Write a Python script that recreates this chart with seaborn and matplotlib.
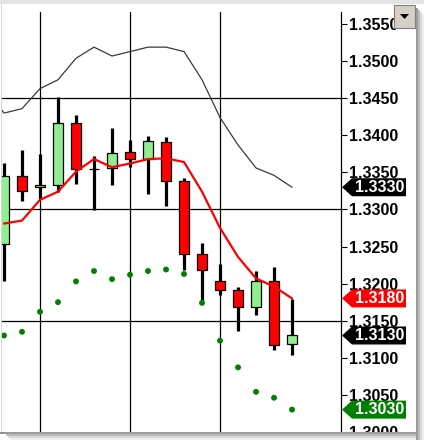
import matplotlib
matplotlib.use("Agg")
import matplotlib.pyplot as plt
import matplotlib.patches as mpatches
import matplotlib.transforms as mtransforms
import seaborn as sns

# OHLC per bar (bar index 0..16)
bar_idx = list(range(17))
opens = [1.3253, 1.3345, 1.3330, 1.3333, 1.3416, 1.3354, 1.3356, 1.3377, 1.3368,
         1.3391, 1.3338, 1.3240, 1.3204, 1.3191, 1.3169, 1.3204, 1.3118]
highs = [1.3363, 1.3380, 1.3375, 1.3452, 1.3427, 1.3372, 1.3410, 1.3394, 1.3399,
         1.3398, 1.3342, 1.3255, 1.3226, 1.3195, 1.3217, 1.3222, 1.3179]
lows = [1.3204, 1.3311, 1.3314, 1.3323, 1.3335, 1.3299, 1.3333, 1.3357, 1.3321,
        1.3305, 1.3218, 1.3172, 1.3184, 1.3136, 1.3157, 1.3110, 1.3104]
closes = [1.3345, 1.3325, 1.3333, 1.3416, 1.3354, 1.3354, 1.3376, 1.3368, 1.3392,
          1.3338, 1.3240, 1.3219, 1.3191, 1.3169, 1.3204, 1.3117, 1.3130]

# moving average (red)
ma_vals = [1.3281, 1.3285, 1.3313, 1.3324, 1.3351, 1.3368, 1.3357, 1.3362, 1.3368,
           1.3369, 1.3364, 1.3324, 1.3275, 1.3236, 1.3207, 1.3196, 1.3180]

# upper band (thin dark line), starts one bar before the first visible candle
band_idx = list(range(-1, 17))
band_vals = [1.3464, 1.3430, 1.3436, 1.3463, 1.3475, 1.3504, 1.3519, 1.3507, 1.3513,
             1.3519, 1.3519, 1.3513, 1.3475, 1.3424, 1.3387, 1.3356, 1.3346, 1.3330]

# parabolic SAR dots
sar_vals = [1.3130, 1.3135, 1.3162, 1.3175, 1.3203, 1.3217, 1.3206, 1.3212, 1.3217,
            1.3219, 1.3213, 1.3174, 1.3123, 1.3087, 1.3054, 1.3046, 1.3030]

price_ticks = [1.3000, 1.3050, 1.3100, 1.3150, 1.3200, 1.3250, 1.3300,
               1.3350, 1.3400, 1.3450, 1.3500, 1.3550]
grid_prices = [1.3150, 1.3300, 1.3450]
grid_bars = [2, 7, 12]

W, H = 424, 440

sns.set_style("white")
plt.rcParams['font.family'] = ['Liberation Sans', 'DejaVu Sans']

fig = plt.figure(figsize=(W / 100, H / 100), dpi=100)
fig.patch.set_facecolor('white')
ax = fig.add_axes([2 / W, 8 / H, 339 / W, 420 / H])
ax.set_facecolor('white')

# grid
for gp in grid_prices:
    ax.axhline(gp, color='black', lw=0.9, zorder=1)
for gb in grid_bars:
    ax.axvline(gb, color='black', lw=0.9, zorder=1)

# candles
body_w = 0.56
for i, o, h, l, c in zip(bar_idx, opens, highs, lows, closes):
    ax.vlines(i, l, h, color='black', lw=2.3, zorder=3)
    fc = '#90ee90' if c >= o else '#ff0000'
    ax.bar(i, c - o, width=body_w, bottom=o, color=fc, edgecolor='black',
           linewidth=0.9, zorder=4)

sns.lineplot(x=band_idx, y=band_vals, ax=ax, color='#3a3a3a', lw=0.9, zorder=2)
sns.lineplot(x=bar_idx, y=ma_vals, ax=ax, color='#ff0000', lw=1.6, zorder=5)
sns.scatterplot(x=bar_idx, y=sar_vals, ax=ax, color='#008000', s=18,
                edgecolor='none', zorder=5)

ax.set_xlim(-0.111, 18.72)
ax.set_ylim(1.29998, 1.35664)
ax.set_xticks([])
ax.set_yticks(price_ticks)
ax.set_yticklabels([f"{p:.4f}" for p in price_ticks])
ax.yaxis.tick_right()
ax.tick_params(axis='y', length=4.5, width=0.8, pad=1.5, labelsize=11.5,
               colors='black')
for lbl in ax.get_yticklabels():
    lbl.set_fontweight('bold')
for side in ['left', 'top', 'bottom']:
    ax.spines[side].set_visible(False)
ax.spines['right'].set_color('black')
ax.spines['right'].set_linewidth(0.9)
ax.set_xlabel('')
ax.set_ylabel('')

# price tags on the axis
tr = mtransforms.blended_transform_factory(fig.transFigure, ax.transData)
half = 9 * 0.0001349
tags = [(band_vals[-1], 'black'), (ma_vals[-1], '#ff0000'),
        (closes[-1], 'black'), (sar_vals[-1], '#008000')]
for price, col in tags:
    verts = [(342 / W, price), (352 / W, price + half), (406 / W, price + half),
             (406 / W, price - half), (352 / W, price - half)]
    poly = mpatches.Polygon(verts, closed=True, transform=tr, facecolor=col,
                            edgecolor='none', clip_on=False, zorder=6)
    ax.add_patch(poly)
    ax.text(380 / W, price, f"{price:.4f}", transform=tr, color='white',
            fontsize=11.5, fontweight='bold', ha='center', va='center',
            zorder=7, clip_on=False)


def fx(x):
    return x / W


def fy(y):
    return 1 - y / H


# window frame: top band, shadows, left edge
fig.add_artist(mpatches.Rectangle((0, fy(4)), 1, 4 / H, transform=fig.transFigure,
                                  facecolor='#e4e4e4', edgecolor='none', zorder=20))
fig.add_artist(mpatches.Rectangle((fx(1), fy(432)), 1 / W, 428 / H,
                                  transform=fig.transFigure, facecolor='#d8d8d8',
                                  edgecolor='none', zorder=20))
shades = ['#9c9c9c', '#bcbcbc', '#d9d9d9', '#efefef']
for k, sc in enumerate(shades):
    fig.add_artist(mpatches.Rectangle((fx(416 + 2 * k), fy(440)), 2 / W, (432 - 2 * k) / H,
                                      transform=fig.transFigure, facecolor=sc,
                                      edgecolor='none', zorder=20))
    fig.add_artist(mpatches.Rectangle((fx(4 + 2 * k), fy(434 + 2 * k)), (412 - 2 * k) / W, 2 / H,
                                      transform=fig.transFigure, facecolor=sc,
                                      edgecolor='none', zorder=20))
fig.add_artist(mpatches.Rectangle((fx(0), 0), 1, fy(432), transform=fig.transFigure,
                                  facecolor='none', edgecolor='none', zorder=19))
# white gap below the window bottom before shadow
fig.add_artist(mpatches.Rectangle((fx(0), fy(434)), fx(416), 2 / H,
                                  transform=fig.transFigure, facecolor='#8f8f8f',
                                  edgecolor='none', zorder=19))
fig.add_artist(mpatches.Rectangle((fx(0), fy(440)), 1, 6 / H,
                                  transform=fig.transFigure, facecolor='white',
                                  edgecolor='none', zorder=18))

# dropdown button
fig.add_artist(mpatches.Rectangle((fx(394), fy(28)), 21 / W, 23 / H,
                                  transform=fig.transFigure, facecolor='#d4d0c8',
                                  edgecolor='#808080', lw=0.8, zorder=21))
fig.add_artist(mpatches.Polygon([(fx(400), fy(14)), (fx(409), fy(14)), (fx(404.5), fy(19))],
                                closed=True, transform=fig.transFigure,
                                facecolor='black', edgecolor='none', zorder=22))

fig.savefig('out.png', dpi=100)
